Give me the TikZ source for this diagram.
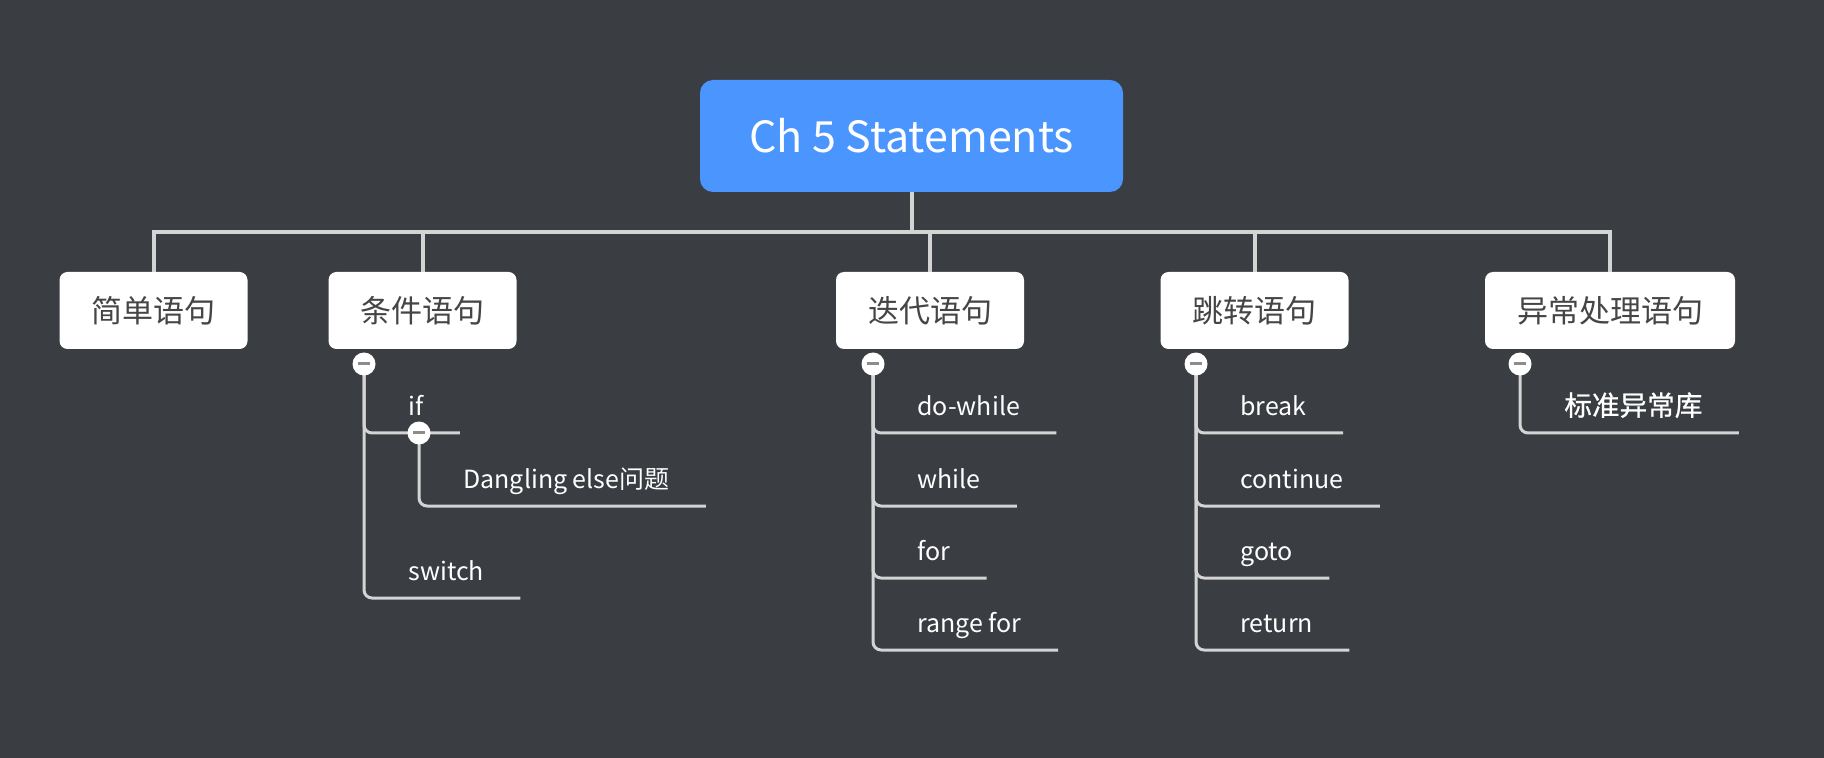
\documentclass[tikz,border=0pt]{standalone}
\usepackage{fontspec}
\setmainfont{Noto Sans CJK SC}
\newfontfamily\medfont{Noto Sans CJK SC}[FakeBold=0.8]
\usetikzlibrary{positioning}
\definecolor{bgc}{HTML}{3A3D42}
\definecolor{rootc}{HTML}{4A95FE}
\definecolor{linec}{HTML}{D4D4D4}
\definecolor{topicc}{HTML}{454545}
\definecolor{minusc}{HTML}{8C8C8C}
\tikzset{
  rootbox/.style={fill=rootc, rounded corners=6.5pt, minimum width=211.5pt,
    minimum height=56pt, text=white, font=\fontsize{21.5}{26}\selectfont},
  topic/.style={fill=white, rounded corners=4pt, minimum height=38.5pt,
    inner xsep=16pt, text=topicc, font=\fontsize{15.5}{18}\selectfont},
  leaf/.style={anchor=south west, inner xsep=18pt, inner ysep=8.5pt,
    text depth=0pt, text=white, font=\fontsize{12.5}{15}\selectfont},
  fold/.style={circle, fill=white, minimum size=11.5pt, inner sep=0pt,
    path picture={\draw[minusc, line width=1.5pt]
      ([xshift=-3.2pt]path picture bounding box.center) --
      ([xshift=3.2pt]path picture bounding box.center);}},
  branch/.style={draw=linec, line width=2pt},
  twig/.style={draw=linec, line width=1.5pt, rounded corners=4pt},
}
\begin{document}
\begin{tikzpicture}[x=0.5pt, y=-0.5pt]
  \fill[bgc] (0,0) rectangle (1824,758);
  \useasboundingbox (0,0) rectangle (1824,758);

  % root and main topics
  \node[rootbox] (root) at (911.5,136) {Ch 5 Statements};
  \node[topic] (simple) at (153.5,310.5) {简单语句};
  \node[topic] (cond) at (422.5,310.5) {条件语句};
  \node[topic] (iter) at (930,310.5) {迭代语句};
  \node[topic] (jump) at (1254.5,310.5) {跳转语句};
  \node[topic] (exc) at (1610,310.5) {异常处理语句};
  \coordinate (bar) at (0,232);
  \draw[branch] (root.south) -- (root.south |- bar) -| (simple.north);
  \draw[branch] (root.south) -- (root.south |- bar) -| (cond.north);
  \draw[branch] (root.south) -- (root.south |- bar) -| (iter.north);
  \draw[branch] (root.south) -- (root.south |- bar) -| (jump.north);
  \draw[branch] (root.south) -- (root.south |- bar) -| (exc.north);

  % fold points
  \coordinate (kcond) at (364,364);
  \coordinate (kif) at (419,433);
  \coordinate (kiter) at (873,364);
  \coordinate (kjump) at (1196,364);
  \coordinate (kexc) at (1520,364);

  % leaves
  \node[leaf] (if) at (372,433) {if};
  \node[leaf] (dangling) at (427,506) {Dangling else问题};
  \node[leaf] (switch) at (372,598) {switch};
  \node[leaf] (dowhile) at (881,433) {do-while};
  \node[leaf] (while) at (881,506) {while};
  \node[leaf] (for) at (881,578) {for};
  \node[leaf] (rangefor) at (881,650) {range for};
  \node[leaf] (break) at (1204,433) {break};
  \node[leaf] (continue) at (1204,506) {continue};
  \node[leaf] (goto) at (1204,578) {goto};
  \node[leaf] (return) at (1204,650) {return};
  \node[leaf, font=\fontsize{13.8}{16}\medfont] (stdexc) at (1528,433) {标准异常库};

  \draw[twig] (kcond) |- (if.south east);
  \draw[twig] (kcond) |- (switch.south east);
  \draw[twig] (kif) |- (dangling.south east);
  \draw[twig] (kiter) |- (dowhile.south east);
  \draw[twig] (kiter) |- (while.south east);
  \draw[twig] (kiter) |- (for.south east);
  \draw[twig] (kiter) |- (rangefor.south east);
  \draw[twig] (kjump) |- (break.south east);
  \draw[twig] (kjump) |- (continue.south east);
  \draw[twig] (kjump) |- (goto.south east);
  \draw[twig] (kjump) |- (return.south east);
  \draw[twig] (kexc) |- (stdexc.south east);

  \node[fold] (fcond) at (kcond) {};
  \node[fold] (fif) at (kif) {};
  \node[fold] (fiter) at (kiter) {};
  \node[fold] (fjump) at (kjump) {};
  \node[fold] (fexc) at (kexc) {};
\end{tikzpicture}
\end{document}
